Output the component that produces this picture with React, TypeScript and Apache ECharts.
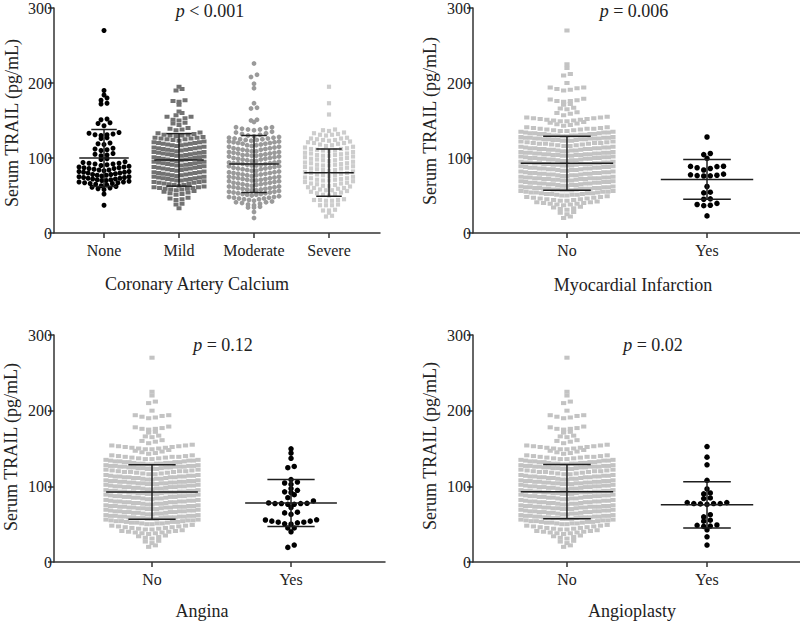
import React, { useEffect, useRef } from 'react';
import * as echarts from 'echarts';

const FONT = '"Liberation Serif", "Times New Roman", serif';

// ---------- categories ----------
const cacCategories = ['None', 'Mild', 'Moderate', 'Severe'];
const ynCategories = ['No', 'Yes'];
const yTicks = [0, 100, 200, 300];

// ---------- Coronary artery calcium groups (pg/mL) ----------
const noneVals = [
  270,
  190, 184, 180, 177, 173, 172,
  152, 151, 147, 146, 143,
  134, 133, 132, 131, 131, 130,
  127, 126,
  120, 119, 118,
  113, 112, 111, 110,
  106, 105, 104, 103,
  99, 98,
  95, 94, 93, 93, 92, 92, 91, 90,
  89, 88, 88, 87, 87, 86, 86, 85, 84, 84, 83,
  82, 82, 81, 81, 80, 80, 79, 78, 78, 77, 77, 76,
  75, 75, 74, 74, 73, 73, 72, 72, 71, 71, 70, 70,
  69, 68, 68, 67, 67, 66, 66, 65, 64, 63,
  62, 61, 60, 59, 58,
  52, 37,
];

const mildVals = [
  195, 192, 190, 177, 176, 175, 171,
  162, 160, 157, 155, 155, 153, 151, 150,
  147, 146, 144,
  140, 139, 138, 137,
  134, 133, 132, 131, 131, 130, 130, 129,
  128, 127, 127, 126, 126, 125, 125, 124, 123,
  122, 121, 121, 120, 120, 119, 119, 118, 118, 117, 117, 116,
  115, 114, 114, 113, 113, 112, 112, 111, 111, 110, 110, 109,
  108, 108, 107, 107, 106, 106, 105, 105, 104, 104, 103, 103,
  102, 101, 101, 100, 100, 99, 99, 98, 98, 97, 97, 96,
  95, 95, 94, 94, 93, 93, 92, 92, 91, 91, 90, 90,
  89, 88, 88, 87, 87, 86, 86, 85, 85, 84, 84, 83,
  82, 81, 81, 80, 80, 79, 79, 78, 78, 77, 77, 76,
  75, 75, 74, 74, 73, 73, 72, 72, 71, 71, 70, 70,
  69, 68, 68, 67, 67, 66, 66, 65, 64, 64, 63,
  62, 61, 61, 60, 60, 59, 59, 58, 58, 57,
  56, 55, 54, 53, 52, 51,
  47, 46, 45, 44,
  39, 38, 33,
];

const moderateVals = [
  226, 211, 208, 199, 193, 173, 167, 166,
  151, 150, 148,
  141, 141, 140, 139, 138, 138, 137,
  135, 134, 133, 132, 131, 130, 129,
  128, 127, 127, 126, 126, 125, 125, 124, 124, 123,
  122, 122, 121, 121, 120, 120, 119, 119, 118, 117, 117, 116,
  115, 115, 114, 113, 113, 112, 112, 111, 111, 110, 109, 109,
  108, 108, 107, 107, 106, 106, 105, 104, 104, 104, 103, 103,
  102, 102, 101, 100, 100, 99, 99, 98, 98, 97, 96, 96,
  95, 94, 94, 93, 93, 93, 92, 92, 91, 91, 90, 90,
  89, 89, 88, 87, 87, 86, 86, 85, 85, 84, 83, 83,
  82, 81, 81, 80, 80, 79, 79, 78, 78, 77, 77, 76,
  75, 75, 74, 74, 73, 73, 72, 72, 71, 71, 70, 70,
  69, 69, 68, 67, 67, 66, 66, 65, 65, 64, 64, 63,
  62, 62, 61, 61, 60, 60, 59, 59, 58, 58, 57, 57,
  56, 55, 55, 54, 54, 53, 53, 52, 52, 51, 51, 50,
  49, 48, 48, 47, 47, 46, 46, 45, 45, 44, 43,
  42, 41, 41, 40, 39, 38, 37,
  35, 34, 34,
  28, 20,
];

const severeVals = [
  195, 173, 158,
  138, 137, 136,
  134, 133, 132, 131, 131, 130,
  127, 126, 126, 125, 124, 124, 123,
  122, 121, 120, 120, 119, 118, 117, 116,
  115, 114, 113, 112, 112, 111, 110, 110, 109,
  108, 107, 106, 106, 105, 104, 104, 103, 103,
  102, 101, 100, 99, 99, 98, 97, 97, 96,
  95, 94, 93, 93, 92, 91, 91, 90, 90,
  89, 88, 87, 86, 86, 85, 84, 84, 83,
  82, 81, 80, 80, 79, 78, 77, 77, 76,
  75, 74, 73, 73, 72, 71, 71, 70, 70,
  69, 68, 67, 66, 66, 65, 64, 63, 63,
  62, 61, 60, 60, 59, 58, 57, 57,
  56, 55, 54, 53, 52, 51, 50,
  45, 44, 44, 43, 44, 43,
  38, 37, 37, 37,
  31, 30, 30,
  27, 23, 22,
];

const cacMean = [100, 97.5, 92, 80.5];
const cacSD = [38, 35, 38, 31.5];

// ---------- "No" group (patients without the event) ----------
const noVals = [
  270, 225, 220, 212, 210, 200, 194, 194, 193, 192, 191, 190,
  179, 178, 177, 176, 176, 175, 172, 171, 167, 166, 165, 161, 160, 159, 157,
  155, 154, 154, 153, 152, 152, 151, 151, 150, 150, 149, 149, 153,
  148, 147, 146, 145, 144, 143,
  141, 140, 140, 139, 139, 138, 138, 137, 137, 136, 136, 141, 139,
  135, 135, 134, 134, 134, 133, 133, 133, 132, 132, 132, 132, 131, 131, 131, 130, 130, 130, 129, 129, 130,
  128, 128, 127, 127, 127, 126, 126, 126, 126, 125, 125, 125, 124, 124, 124, 123, 123, 123, 125, 126, 127,
  122, 121, 121, 120, 120, 119, 119, 119, 118, 118, 117, 117, 116, 116, 120, 122,
  115, 115, 114, 114, 114, 113, 113, 113, 112, 112, 112, 111, 111, 111, 110, 110, 110, 109, 109, 112, 113,
  108, 108, 107, 107, 107, 106, 106, 106, 105, 105, 105, 105, 104, 104, 104, 103, 103, 103, 106, 107, 104,
  102, 102, 101, 101, 101, 100, 100, 100, 99, 99, 99, 99, 98, 98, 98, 97, 97, 97, 96, 96, 100,
  95, 95, 94, 94, 94, 93, 93, 93, 93, 92, 92, 92, 92, 91, 91, 91, 90, 90, 90, 94, 92,
  89, 89, 88, 88, 88, 87, 87, 87, 86, 86, 86, 86, 85, 85, 85, 84, 84, 84, 83, 83, 87,
  82, 82, 81, 81, 81, 80, 80, 80, 79, 79, 79, 79, 78, 78, 78, 77, 77, 77, 76, 76, 80,
  75, 75, 74, 74, 74, 73, 73, 73, 73, 72, 72, 72, 72, 71, 71, 71, 70, 70, 70, 74, 73,
  69, 69, 68, 68, 68, 67, 67, 67, 66, 66, 66, 66, 65, 65, 65, 64, 64, 64, 63, 63, 67,
  62, 62, 61, 61, 61, 60, 60, 60, 60, 59, 59, 59, 59, 58, 58, 58, 57, 57, 57, 61, 59,
  56, 56, 55, 55, 55, 54, 54, 54, 53, 53, 53, 52, 52, 52, 51, 51, 51, 50, 50,
  49, 48, 48, 47, 47, 46, 46, 45, 45, 44, 44, 43, 43,
  42, 41, 41, 40, 40, 39, 39, 38, 38, 37,
  35, 34, 33, 32, 31,
  28, 27, 25,
  22, 20,
];

// ---------- "Yes" groups ----------
const miYesVals = [128, 106, 104.5, 99.5, 84, 86, 87, 88.5, 88.8, 89, 76, 76.3, 76.5, 77, 77.6, 78.5, 62, 53.5, 54.4, 45, 45.5, 37, 36.5, 38, 39.5, 22.8];
const anginaYesVals = [149.6, 143.9, 137, 124.6, 126.3, 109, 105.7, 104.4, 102.6, 97, 94.7, 91.7, 92.7, 89, 85, 78, 77.2, 76.3, 76.3, 77.2, 77.2, 77.6, 80.7, 72, 64.9, 63, 65.8, 55.8, 54, 52.6, 50, 50.5, 51.8, 52.6, 54, 55.5, 45, 45, 39.9, 19.3, 22.4];
const angioYesVals = [152.6, 138.6, 128.5, 108, 96.5, 91.2, 90, 84.6, 83.8, 78.5, 77.2, 77.2, 76, 76.8, 77.2, 78.5, 62.5, 59.6, 55.3, 54, 49, 47.5, 47, 48.5, 42.5, 33.3, 22.4];

const miMean = [93, 71.5];
const miSD = [36, 26.5];
const anginaMean = [92.5, 78];
const anginaSD = [36, 31];
const angioMean = [93, 75.5];
const angioSD = [36, 30.5];

// ---------- layout helpers ----------
const BIN = 6.6;
function swarm(vals: number[], cat: number, pxPerUnit: number, pitchPx: number, maxWidthPx: number): number[][] {
  const rows = new Map<number, number[]>();
  vals.forEach((v) => {
    const k = Math.round(v / BIN);
    if (!rows.has(k)) rows.set(k, []);
    rows.get(k)!.push(v);
  });
  const pts: number[][] = [];
  rows.forEach((list) => {
    list.sort((a, b) => a - b);
    const n = list.length;
    const pitch = n > 1 ? Math.min(pitchPx, maxWidthPx / (n - 1)) : 0;
    const slots: number[] = [];
    for (let i = 0; i < n; i++) slots.push((i - (n - 1) / 2) * pitch);
    slots.sort((a, b) => Math.abs(a) - Math.abs(b) || a - b);
    list.forEach((v, i) => pts.push([cat + slots[i] / pxPerUnit, v]));
  });
  return pts;
}

type Group = { vals: number[]; symbol: string; size: number | number[]; color: string; pitch: number; maxW: number };
type Panel = {
  left: number; top: number; width: number; height: number; xMin: number; xMax: number;
  cats: string[]; groups: Group[]; means: number[]; sds: number[];
};

const LIGHT = '#c3c3c3';
const noGroup: Group = { vals: noVals, symbol: 'rect', size: [5.2, 4], color: LIGHT, pitch: 6.7, maxW: 92 };

const panels: Panel[] = [
  {
    left: 54, top: 8, width: 326, height: 225, xMin: -0.667, xMax: 3.68, cats: cacCategories,
    groups: [
      { vals: noneVals, symbol: 'circle', size: 5, color: '#000000', pitch: 6, maxW: 50 },
      { vals: mildVals, symbol: 'rect', size: [5, 4], color: '#727272', pitch: 6, maxW: 50 },
      { vals: moderateVals, symbol: 'circle', size: 4.8, color: '#9a9a9a', pitch: 6, maxW: 50 },
      { vals: severeVals, symbol: 'rect', size: 4.2, color: '#cdcdcd', pitch: 6, maxW: 50 },
    ],
    means: cacMean, sds: cacSD,
  },
  {
    left: 473, top: 8, width: 327, height: 225, xMin: -0.671, xMax: 1.664, cats: ynCategories,
    groups: [noGroup, { vals: miYesVals, symbol: 'circle', size: 5.5, color: '#000000', pitch: 6.6, maxW: 70 }],
    means: miMean, sds: miSD,
  },
  {
    left: 54, top: 335, width: 331, height: 227, xMin: -0.705, xMax: 1.676, cats: ynCategories,
    groups: [noGroup, { vals: anginaYesVals, symbol: 'circle', size: 5.5, color: '#000000', pitch: 6.4, maxW: 70 }],
    means: anginaMean, sds: anginaSD,
  },
  {
    left: 473, top: 335, width: 327, height: 227, xMin: -0.671, xMax: 1.664, cats: ynCategories,
    groups: [noGroup, { vals: angioYesVals, symbol: 'circle', size: 5.5, color: '#000000', pitch: 6.6, maxW: 70 }],
    means: angioMean, sds: angioSD,
  },
];

const pTexts = [
  { x: 210, y: 11, text: '{i|p} < 0.001' },
  { x: 634, y: 11, text: '{i|p} = 0.006' },
  { x: 223, y: 345, text: '{i|p} = 0.12' },
  { x: 653, y: 345, text: '{i|p} = 0.02' },
];
const xTitles = [
  { x: 197, y: 284, text: 'Coronary Artery Calcium' },
  { x: 633, y: 285, text: 'Myocardial Infarction' },
  { x: 202, y: 611, text: 'Angina' },
  { x: 632, y: 611, text: 'Angioplasty' },
];
const yTitles = [
  { x: 12, y: 123 },
  { x: 430, y: 121 },
  { x: 11, y: 447 },
  { x: 430, y: 446 },
];

const AXIS_COLOR = '#333333';
const TEXT_COLOR = '#222222';

function renderErrorBar(params: any, api: any) {
  const c = api.value(0);
  const m = api.value(1);
  const s = api.value(2);
  const a = api.coord([c - 0.33, m]);
  const b = api.coord([c + 0.33, m]);
  const top = api.coord([c, m + s]);
  const bot = api.coord([c, m - s]);
  const tl = api.coord([c - 0.17, m + s]);
  const tr = api.coord([c + 0.17, m + s]);
  const bl = api.coord([c - 0.17, m - s]);
  const br = api.coord([c + 0.17, m - s]);
  const style = { stroke: '#1e1e1e', lineWidth: 1.5 };
  return {
    type: 'group',
    children: [
      { type: 'line', shape: { x1: top[0], y1: top[1], x2: bot[0], y2: bot[1] }, style },
      { type: 'line', shape: { x1: a[0], y1: a[1], x2: b[0], y2: b[1] }, style },
      { type: 'line', shape: { x1: tl[0], y1: tl[1], x2: tr[0], y2: tr[1] }, style },
      { type: 'line', shape: { x1: bl[0], y1: bl[1], x2: br[0], y2: br[1] }, style },
    ],
  };
}

function buildOption() {
  const grid: any[] = [];
  const xAxis: any[] = [];
  const yAxis: any[] = [];
  const series: any[] = [];
  panels.forEach((p, i) => {
    grid.push({ left: p.left, top: p.top, width: p.width, height: p.height, containLabel: false, outerBoundsMode: 'none' });
    const ticks = p.cats.map((_, k) => k);
    xAxis.push({
      gridIndex: i,
      type: 'value',
      min: p.xMin,
      max: p.xMax,
      axisLine: { show: true, onZero: false, lineStyle: { color: AXIS_COLOR, width: 1.5 } },
      axisTick: { show: true, customValues: ticks, length: 5, lineStyle: { color: AXIS_COLOR, width: 1.5 } },
      axisLabel: {
        show: true,
        customValues: ticks,
        formatter: (v: number) => p.cats[Math.round(v)] ?? '',
        fontFamily: FONT,
        fontSize: 16,
        color: TEXT_COLOR,
        margin: 9,
      },
      splitLine: { show: false },
    });
    yAxis.push({
      gridIndex: i,
      type: 'value',
      min: yTicks[0],
      max: yTicks[yTicks.length - 1],
      interval: yTicks[1] - yTicks[0],
      axisLine: { show: true, onZero: false, lineStyle: { color: AXIS_COLOR, width: 1.5 } },
      axisTick: { show: true, length: 6, lineStyle: { color: AXIS_COLOR, width: 1.5 } },
      axisLabel: { fontFamily: FONT, fontSize: 16, color: TEXT_COLOR, margin: 2 },
      splitLine: { show: false },
    });
    const ppu = p.width / (p.xMax - p.xMin);
    p.groups.forEach((g, k) => {
      series.push({
        type: 'scatter',
        xAxisIndex: i,
        yAxisIndex: i,
        symbol: g.symbol,
        symbolSize: g.size,
        itemStyle: { color: g.color, opacity: 1 },
        data: swarm(g.vals, k, ppu, g.pitch, g.maxW),
        z: 2,
        silent: true,
      });
    });
    series.push({
      type: 'custom',
      xAxisIndex: i,
      yAxisIndex: i,
      z: 5,
      silent: true,
      clip: false,
      data: p.means.map((m, k) => [k, m, p.sds[k]]),
      encode: { x: 0, y: 1 },
      renderItem: renderErrorBar,
    });
  });

  const graphic: any[] = [];
  pTexts.forEach((t) => {
    graphic.push({
      type: 'text', x: t.x, y: t.y, silent: true,
      style: {
        text: t.text, fontFamily: FONT, fontSize: 18, fill: TEXT_COLOR, align: 'center', verticalAlign: 'middle',
        rich: { i: { fontStyle: 'italic', fontFamily: FONT, fontSize: 18, fill: TEXT_COLOR } },
      },
    });
  });
  xTitles.forEach((t) => {
    graphic.push({
      type: 'text', x: t.x, y: t.y, silent: true,
      style: { text: t.text, fontFamily: FONT, fontSize: 18, fill: TEXT_COLOR, align: 'center', verticalAlign: 'middle' },
    });
  });
  yTitles.forEach((t) => {
    graphic.push({
      type: 'text', x: t.x, y: t.y, rotation: Math.PI / 2, silent: true,
      style: { text: 'Serum TRAIL (pg/mL)', fontFamily: FONT, fontSize: 18, fill: TEXT_COLOR, align: 'center', verticalAlign: 'middle' },
    });
  });

  return { animation: false, backgroundColor: '#ffffff', grid, xAxis, yAxis, series, graphic };
}

export default function App() {
  const ref = useRef<HTMLDivElement>(null);
  useEffect(() => {
    if (!ref.current) return;
    const chart = echarts.init(ref.current, null, { renderer: 'svg' });
    chart.setOption(buildOption());
    return () => chart.dispose();
  }, []);
  return (
    <div
      ref={ref}
      style={{ position: 'absolute', left: 0, top: 0, width: 800, height: 622, background: '#fff' }}
    />
  );
}
